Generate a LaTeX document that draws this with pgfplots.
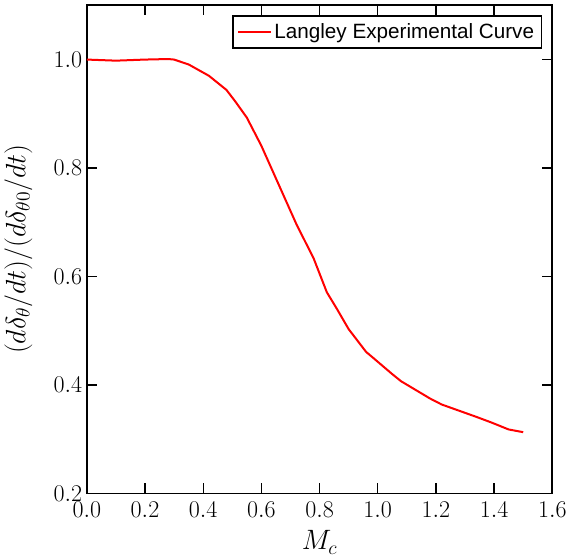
\RequirePackage{fix-cm}
\documentclass[border=0pt]{standalone}
\usepackage{fontspec}
\usepackage{pgfplots}
\pgfplotsset{compat=1.18}
\newfontfamily\legfont{Liberation Sans}
\begin{document}
\begin{tikzpicture}
\begin{axis}[
  scale only axis,
  width=349pt, height=366pt,
  xmin=0, xmax=1.6, ymin=0.2, ymax=1.1,
  xtick={0,0.2,...,1.6},
  ytick={0.2,0.4,...,1.0},
  xticklabel style={yshift=-3pt, /pgf/number format/fixed, /pgf/number format/fixed zerofill, /pgf/number format/precision=1},
  yticklabel style={/pgf/number format/fixed, /pgf/number format/fixed zerofill, /pgf/number format/precision=1},
  every tick label/.append style={font=\fontsize{18}{20}\selectfont},
  every axis label/.append style={font=\fontsize{21}{24}\selectfont},
  tick align=inside,
  major tick length=7.5pt,
  minor tick num=0,
  axis line style={line width=1.3pt},
  every tick/.style={black, line width=0.9pt},
  xlabel={$M_c$},
  ylabel={$(d\delta_\theta/dt)/(d\delta_{\theta 0}/dt)$},
  xlabel style={yshift=-3pt},
  ylabel style={yshift=9pt},
  legend style={at={(0.9785,0.9795)}, anchor=north east, draw=black, line width=1.3pt,
    font=\legfont\fontsize{15.5}{17}\selectfont, inner sep=3.5pt, row sep=0pt},
  legend cell align=left,
  legend image post style={line width=1.5pt},
  legend image code/.code={\draw[#1] (0cm,0cm) -- (0.85cm,0cm);},
]
\addplot[red, line width=1.5pt] coordinates {
(0,1.000) (0.1,0.998) (0.2,1.000) (0.28,1.001) (0.30,1.000) (0.35,0.991)
(0.42,0.970) (0.48,0.944) (0.51,0.923) (0.55,0.893) (0.60,0.841) (0.66,0.769)
(0.72,0.697) (0.78,0.633) (0.825,0.571) (0.86,0.540) (0.90,0.503) (0.96,0.461)
(0.98,0.452) (1.05,0.420) (1.08,0.407) (1.18,0.375) (1.22,0.364) (1.34,0.341)
(1.39,0.331) (1.45,0.318) (1.50,0.313)
};
\addlegendentry{Langley Experimental Curve}
\end{axis}
\path (current axis.north west) ++(0,4pt);
\end{tikzpicture}
\end{document}
